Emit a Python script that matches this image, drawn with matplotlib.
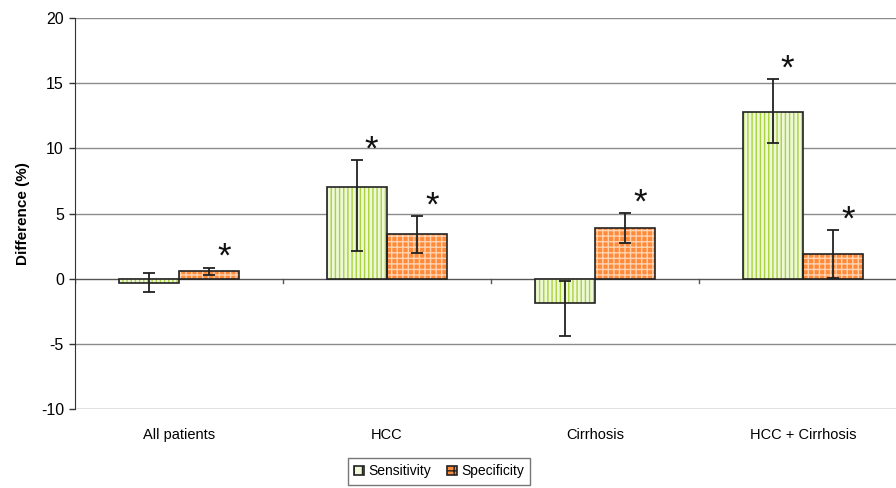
import matplotlib.pyplot as plt
import numpy as np

plt.rcParams['font.family'] = ['Liberation Sans', 'DejaVu Sans']

categories = ["All patients", "HCC", "Cirrhosis", "HCC + Cirrhosis"]
sens = [-0.3, 7.0, -1.9, 12.8]
sens_lo = [-1.0, 2.1, -4.4, 10.4]
sens_hi = [0.4, 9.1, -0.2, 15.3]
spec = [0.55, 3.4, 3.9, 1.9]
spec_lo = [0.25, 2.0, 2.75, 0.05]
spec_hi = [0.85, 4.8, 5.05, 3.7]
# which bars carry an asterisk
sens_star = [False, True, False, True]
spec_star = [True, True, True, True]

x = np.arange(len(categories))
w = 0.29

fig = plt.figure(figsize=(8.96, 4.88), dpi=100)
ax = fig.add_axes([75 / 896, 1 - 409 / 488, 832 / 896, 391 / 488])

for v in [-5, 5, 10, 15, 20]:
    ax.axhline(v, color='#8c8c8c', lw=1.0, zorder=0)
ax.axhline(-10, color='#666666', lw=1.0, zorder=0)
ax.axhline(0, color='#555555', lw=1.0, zorder=1)
for b in np.arange(-0.5, 4, 1):
    ax.plot([b, b], [0, -0.35], color='#555555', lw=1.0, zorder=1)

xs = x - w / 2
xp = x + w / 2
ax.bar(xs, sens, w, color='#eef8d8', edgecolor='#a9d23c', hatch='||||', lw=0, zorder=2)
ax.bar(xs, sens, w, fill=False, edgecolor='#222222', lw=1.2, zorder=3)
ax.bar(xp, spec, w, color='#ff8a3a', edgecolor='#ffd2b0', hatch='+++', lw=0, zorder=2)
ax.bar(xp, spec, w, fill=False, edgecolor='#222222', lw=1.2, zorder=3)

s = np.array(sens)
p = np.array(spec)
ax.errorbar(xs, s, yerr=[s - np.array(sens_lo), np.array(sens_hi) - s], fmt='none',
            ecolor='#222222', elinewidth=1.3, capsize=4, capthick=1.3, zorder=4)
ax.errorbar(xp, p, yerr=[p - np.array(spec_lo), np.array(spec_hi) - p], fmt='none',
            ecolor='#222222', elinewidth=1.3, capsize=4, capthick=1.3, zorder=4)

for i in range(len(categories)):
    if sens_star[i]:
        ax.text(xs[i] + 0.07, sens_hi[i] - 0.5, '*', fontsize=25, ha='center', va='bottom', color='#111111')
    if spec_star[i]:
        ax.text(xp[i] + 0.07, spec_hi[i] - 0.5, '*', fontsize=25, ha='center', va='bottom', color='#111111')

ax.set_xlim(-0.5, 3.5)
ax.set_ylim(-10, 20)
ax.set_yticks([-10, -5, 0, 5, 10, 15, 20])
ax.set_yticklabels(['-10', '-5', '0', '5', '10', '15', '20'], fontsize=11.5)
ax.set_xticks(x)
ax.set_xticklabels(categories, fontsize=10.5)
ax.tick_params(axis='x', length=0, pad=14)
ax.tick_params(axis='y', length=4, width=1, color='#333333', pad=4)
for sp in ['top', 'right', 'bottom']:
    ax.spines[sp].set_visible(False)
ax.spines['left'].set_color('#333333')
ax.set_ylabel('Difference (%)', fontsize=11, fontweight='bold', labelpad=8)

h1 = plt.Rectangle((0, 0), 1, 1, facecolor='#eef8d8', edgecolor='#222222', hatch='||', lw=1.2)
h2 = plt.Rectangle((0, 0), 1, 1, facecolor='#ff8a3a', edgecolor='#222222', hatch='++', lw=1.2)
fig.legend([h1, h2], ['Sensitivity', 'Specificity'], loc='upper center', ncol=2,
           bbox_to_anchor=(439 / 896, 1 - 458 / 488), fontsize=10, frameon=True, fancybox=False,
           edgecolor='#555555', handlelength=0.7, handleheight=0.7, handletextpad=0.3,
           columnspacing=1.2, borderpad=0.45, borderaxespad=0)

plt.savefig('out.png', dpi=100)
